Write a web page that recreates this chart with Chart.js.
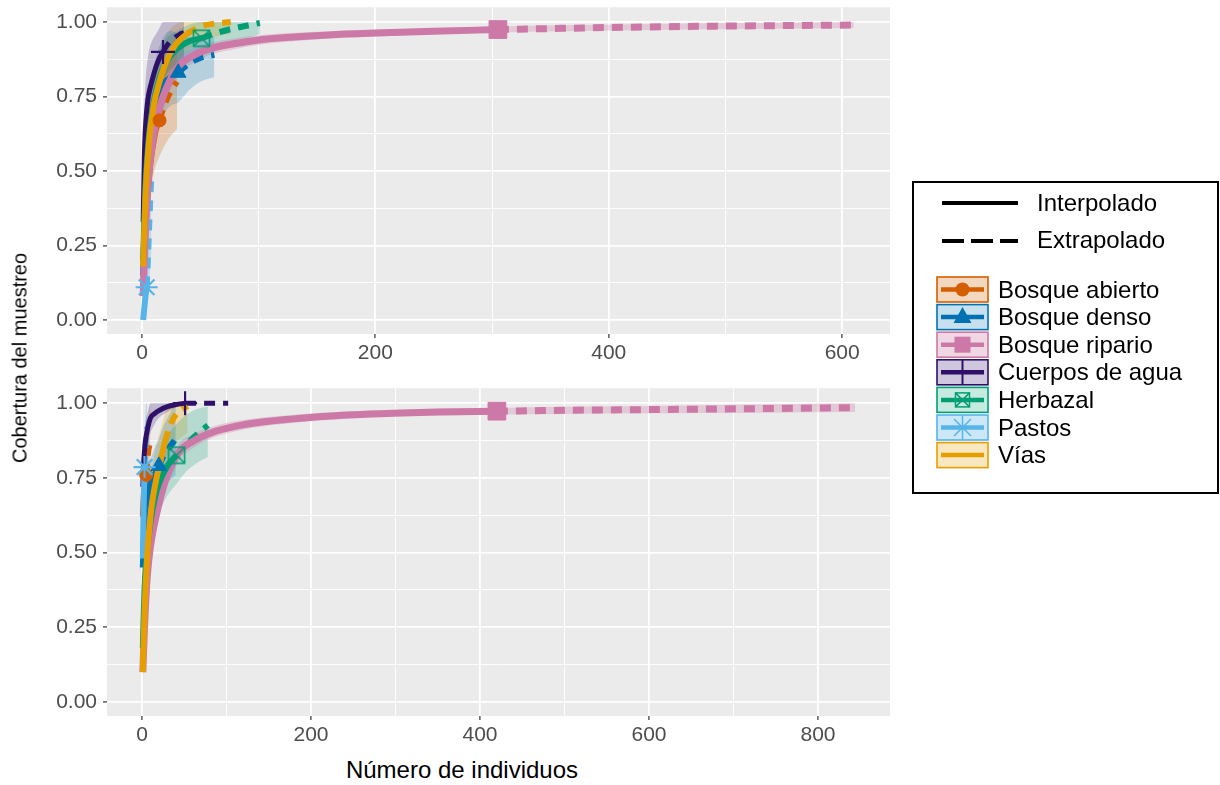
<!DOCTYPE html>
<html><head><meta charset="utf-8">
<script src="https://cdn.jsdelivr.net/npm/chart.js@4.4.0/dist/chart.umd.min.js"></script>
<style>
body{margin:0;background:#fff;width:1220px;height:785px;position:relative;overflow:hidden;font-family:"Liberation Sans",Arial,sans-serif;}
canvas{position:absolute;display:block;}
#cA{left:0;top:-7px;}
#cB{left:0;top:374px;}
#cL{left:910px;top:178px;}
.ytitle{position:absolute;left:20px;top:358px;transform:translate(-50%,-50%) rotate(-90deg);font-size:20px;white-space:nowrap;color:#000;}
.xtitle{position:absolute;left:462px;top:770px;transform:translate(-50%,-50%);font-size:24px;white-space:nowrap;color:#000;}
#legbox{position:absolute;left:912px;top:181px;width:307px;height:313px;border:2px solid #000;box-sizing:border-box;}
.lt{position:absolute;font-size:24px;line-height:28px;white-space:nowrap;color:#000;}
</style></head>
<body>
<canvas id="cA" width="905" height="372"></canvas>
<canvas id="cB" width="905" height="376"></canvas>
<div class="ytitle">Cobertura del muestreo</div>
<div class="xtitle">Número de individuos</div>
<div id="legbox"></div>
<canvas id="cL" width="310" height="320"></canvas>
<div id="legtext"></div>
<script>
// ---------- labels ----------
const seriesNames = ['Bosque abierto','Bosque denso','Bosque ripario','Cuerpos de agua','Herbazal','Pastos','Vías'];
const methodNames = ['Interpolado','Extrapolado'];
const yTicks = [0, 0.125, 0.25, 0.375, 0.5, 0.625, 0.75, 0.875, 1];
const A_xTicks = [0, 100, 200, 300, 400, 500, 600];
const B_xTicks = [0, 100, 200, 300, 400, 500, 600, 700, 800];

// ---------- Panel A (top) ----------
const A_obsN = [15, 31, 305, 18, 51, 4, 38];
const A_abierto_x  = [1, 2, 4, 6, 8, 10, 12, 15, 20, 25, 30];
const A_abierto_y  = [0.10, 0.22, 0.38, 0.48, 0.55, 0.60, 0.64, 0.67, 0.73, 0.77, 0.80];
const A_abierto_lo = [0.06, 0.15, 0.28, 0.37, 0.44, 0.49, 0.52, 0.55, 0.59, 0.62, 0.64];
const A_abierto_hi = [0.14, 0.29, 0.48, 0.59, 0.66, 0.71, 0.76, 0.79, 0.87, 0.92, 0.96];
const A_denso_x  = [1, 3, 6, 10, 15, 20, 25, 31, 40, 50, 62];
const A_denso_y  = [0.15, 0.45, 0.62, 0.72, 0.77, 0.80, 0.815, 0.83, 0.86, 0.88, 0.89];
const A_denso_lo = [0.10, 0.35, 0.50, 0.60, 0.66, 0.70, 0.72, 0.73, 0.77, 0.80, 0.815];
const A_denso_hi = [0.20, 0.55, 0.75, 0.85, 0.92, 0.96, 0.97, 0.96, 0.95, 0.95, 0.95];
const A_ripario_x  = [1, 3, 6, 10, 15, 20, 30, 45, 60, 80, 100, 130, 160, 200, 250, 305, 360, 420, 480, 540, 610];
const A_ripario_y  = [0.08, 0.30, 0.50, 0.62, 0.71, 0.77, 0.845, 0.89, 0.912, 0.928, 0.94, 0.95, 0.957, 0.963, 0.969, 0.975, 0.979, 0.983, 0.986, 0.988, 0.99];
const A_ripario_lo = [0.05, 0.24, 0.43, 0.56, 0.66, 0.73, 0.815, 0.865, 0.892, 0.91, 0.924, 0.936, 0.945, 0.952, 0.959, 0.965, 0.969, 0.973, 0.976, 0.978, 0.98];
const A_ripario_hi = [0.11, 0.36, 0.57, 0.68, 0.76, 0.81, 0.875, 0.915, 0.932, 0.946, 0.956, 0.964, 0.969, 0.974, 0.979, 0.985, 0.989, 0.993, 0.996, 0.998, 1.0];
const A_cuerpos_x  = [1, 2, 3, 5, 7, 9, 12, 15, 18, 22, 27, 32, 36];
const A_cuerpos_y  = [0.33, 0.55, 0.65, 0.74, 0.78, 0.81, 0.85, 0.88, 0.90, 0.925, 0.945, 0.958, 0.965];
const A_cuerpos_lo = [0.25, 0.42, 0.50, 0.60, 0.66, 0.70, 0.75, 0.78, 0.80, 0.83, 0.85, 0.86, 0.87];
const A_cuerpos_hi = [0.45, 0.70, 0.80, 0.88, 0.92, 0.94, 0.96, 0.98, 1.0, 1.0, 1.0, 1.0, 1.0];
const A_herbazal_x  = [1, 3, 6, 10, 15, 20, 30, 40, 51, 65, 80, 101];
const A_herbazal_y  = [0.20, 0.45, 0.62, 0.73, 0.81, 0.86, 0.91, 0.935, 0.946, 0.965, 0.98, 0.997];
const A_herbazal_lo = [0.15, 0.36, 0.52, 0.63, 0.72, 0.78, 0.85, 0.88, 0.895, 0.91, 0.93, 0.96];
const A_herbazal_hi = [0.25, 0.54, 0.72, 0.83, 0.90, 0.94, 0.97, 0.99, 1.0, 1.0, 1.0, 1.0];
const A_pastos_x  = [1, 2, 3, 4, 5, 6, 7, 8];
const A_pastos_y  = [0.0, 0.04, 0.08, 0.11, 0.20, 0.30, 0.40, 0.48];
const A_pastos_lo = [0.0, 0.0, 0.02, 0.04, 0.08, 0.12, 0.17, 0.22];
const A_pastos_hi = [0.02, 0.09, 0.15, 0.20, 0.33, 0.46, 0.60, 0.72];
const A_vias_x  = [1, 3, 6, 10, 15, 20, 28, 38, 50, 62, 76];
const A_vias_y  = [0.18, 0.42, 0.60, 0.72, 0.80, 0.86, 0.92, 0.96, 0.985, 0.995, 1.0];
const A_vias_lo = [0.12, 0.32, 0.49, 0.61, 0.70, 0.77, 0.85, 0.90, 0.93, 0.95, 0.96];
const A_vias_hi = [0.24, 0.52, 0.71, 0.83, 0.90, 0.95, 0.99, 1.0, 1.0, 1.0, 1.0];

// ---------- Panel B (bottom) ----------
const B_obsN = [5, 20, 420, 51, 41, 3, 27];
const B_abierto_x  = [1, 2, 3, 5, 7, 10];
const B_abierto_y  = [0.62, 0.68, 0.72, 0.76, 0.83, 0.876];
const B_abierto_lo = [0.55, 0.60, 0.63, 0.66, 0.70, 0.73];
const B_abierto_hi = [0.69, 0.76, 0.81, 0.86, 0.94, 1.0];
const B_denso_x  = [1, 3, 6, 10, 15, 20, 25, 32, 40];
const B_denso_y  = [0.45, 0.60, 0.68, 0.73, 0.76, 0.79, 0.82, 0.85, 0.88];
const B_denso_lo = [0.38, 0.52, 0.60, 0.65, 0.68, 0.70, 0.72, 0.74, 0.76];
const B_denso_hi = [0.52, 0.68, 0.76, 0.81, 0.85, 0.88, 0.92, 0.96, 1.0];
const B_ripario_x  = [1, 3, 6, 10, 19, 30, 45, 60, 84, 110, 140, 170, 202, 250, 297, 350, 420, 500, 580, 660, 740, 844];
const B_ripario_y  = [0.10, 0.25, 0.41, 0.52, 0.65, 0.76, 0.84, 0.872, 0.903, 0.922, 0.936, 0.945, 0.953, 0.961, 0.966, 0.97, 0.973, 0.976, 0.978, 0.98, 0.982, 0.985];
const B_ripario_lo = [0.07, 0.20, 0.35, 0.46, 0.60, 0.72, 0.81, 0.848, 0.884, 0.905, 0.921, 0.931, 0.94, 0.949, 0.955, 0.959, 0.962, 0.964, 0.966, 0.967, 0.968, 0.97];
const B_ripario_hi = [0.13, 0.30, 0.47, 0.58, 0.70, 0.80, 0.87, 0.896, 0.922, 0.939, 0.951, 0.959, 0.966, 0.973, 0.977, 0.981, 0.984, 0.988, 0.99, 0.993, 0.996, 1.0];
const B_cuerpos_x  = [1, 2, 4, 7, 10, 15, 20, 30, 40, 51, 65, 80, 102];
const B_cuerpos_y  = [0.72, 0.80, 0.87, 0.92, 0.95, 0.965, 0.975, 0.988, 0.995, 1.0, 1.0, 1.0, 1.0];
const B_cuerpos_lo = [0.66, 0.74, 0.81, 0.87, 0.90, 0.93, 0.95, 0.97, 0.985, 0.995, 0.998, 0.999, 1.0];
const B_cuerpos_hi = [0.78, 0.86, 0.93, 0.97, 1.0, 1.0, 1.0, 1.0, 1.0, 1.0, 1.0, 1.0, 1.0];
const B_herbazal_x  = [1, 3, 6, 10, 15, 20, 30, 41, 52, 65, 78];
const B_herbazal_y  = [0.18, 0.38, 0.50, 0.60, 0.68, 0.73, 0.79, 0.826, 0.86, 0.895, 0.926];
const B_herbazal_lo = [0.14, 0.30, 0.40, 0.50, 0.58, 0.63, 0.69, 0.73, 0.77, 0.80, 0.82];
const B_herbazal_hi = [0.22, 0.46, 0.60, 0.70, 0.78, 0.83, 0.89, 0.93, 0.96, 0.98, 0.99];
const B_pastos_x  = [1, 2, 3, 4, 5, 6];
const B_pastos_y  = [0.48, 0.66, 0.786, 0.85, 0.89, 0.92];
const B_pastos_lo = [0.40, 0.55, 0.65, 0.70, 0.73, 0.75];
const B_pastos_hi = [0.56, 0.77, 0.90, 0.97, 1.0, 1.0];
const B_vias_x  = [1, 3, 6, 10, 13, 18, 23, 27, 34, 41, 54];
const B_vias_y  = [0.10, 0.30, 0.48, 0.62, 0.686, 0.76, 0.82, 0.87, 0.93, 0.965, 0.99];
const B_vias_lo = [0.05, 0.20, 0.36, 0.50, 0.57, 0.65, 0.72, 0.77, 0.83, 0.87, 0.90];
const B_vias_hi = [0.15, 0.40, 0.60, 0.74, 0.80, 0.87, 0.92, 0.96, 1.0, 1.0, 1.0];

// ---------- styles ----------
const FONT = '"Liberation Sans", Arial, Helvetica, sans-serif';
const COLORS = ['#D55E00','#0072B2','#CC79A7','#2F1068','#009E73','#56B4E9','#E69F00'];
const BANDS = ['rgba(213,94,0,0.25)','rgba(0,114,178,0.22)','rgba(204,121,167,0.3)','rgba(60,30,120,0.25)','rgba(0,158,115,0.22)','rgba(86,180,233,0.3)','rgba(230,159,0,0.25)'];
const LINEW = [6, 6, 7, 5, 6, 6, 6];

function boxX(size, color){
  const c = document.createElement('canvas'); c.width = size; c.height = size;
  const g = c.getContext('2d'); g.strokeStyle = color; g.lineWidth = 1.6;
  const p = 1.5, s = size - 3;
  g.strokeRect(p, p, s, s);
  g.beginPath(); g.moveTo(p, p); g.lineTo(p + s, p + s); g.moveTo(p + s, p); g.lineTo(p, p + s); g.stroke();
  return c;
}
const MARKERS = ['circle','triangle','rect','cross', boxX(19, COLORS[4]), 'star', false];
const MRAD = [6.5, 9, 12.5, 12, 10, 11, 0];

function series(xs, ys, lo, hi, n){ return {xs, ys, lo, hi, n}; }
const A_series = [
  series(A_abierto_x, A_abierto_y, A_abierto_lo, A_abierto_hi, A_obsN[0]),
  series(A_denso_x, A_denso_y, A_denso_lo, A_denso_hi, A_obsN[1]),
  series(A_ripario_x, A_ripario_y, A_ripario_lo, A_ripario_hi, A_obsN[2]),
  series(A_cuerpos_x, A_cuerpos_y, A_cuerpos_lo, A_cuerpos_hi, A_obsN[3]),
  series(A_herbazal_x, A_herbazal_y, A_herbazal_lo, A_herbazal_hi, A_obsN[4]),
  series(A_pastos_x, A_pastos_y, A_pastos_lo, A_pastos_hi, A_obsN[5]),
  series(A_vias_x, A_vias_y, A_vias_lo, A_vias_hi, A_obsN[6]),
];
const B_series = [
  series(B_abierto_x, B_abierto_y, B_abierto_lo, B_abierto_hi, B_obsN[0]),
  series(B_denso_x, B_denso_y, B_denso_lo, B_denso_hi, B_obsN[1]),
  series(B_ripario_x, B_ripario_y, B_ripario_lo, B_ripario_hi, B_obsN[2]),
  series(B_cuerpos_x, B_cuerpos_y, B_cuerpos_lo, B_cuerpos_hi, B_obsN[3]),
  series(B_herbazal_x, B_herbazal_y, B_herbazal_lo, B_herbazal_hi, B_obsN[4]),
  series(B_pastos_x, B_pastos_y, B_pastos_lo, B_pastos_hi, B_obsN[5]),
  series(B_vias_x, B_vias_y, B_vias_lo, B_vias_hi, B_obsN[6]),
];

function buildDatasets(S){
  const ds = [];
  const common = {pointRadius:0, cubicInterpolationMode:'monotone', tension:0.4};
  S.forEach((s, i) => {
    const pts = (arr) => s.xs.map((x, j) => ({x, y: arr[j]}));
    ds.push(Object.assign({data: pts(s.lo), borderWidth:0, borderColor:'rgba(0,0,0,0)', fill:false, order:20}, common));
    ds.push(Object.assign({data: pts(s.hi), borderWidth:0, borderColor:'rgba(0,0,0,0)', fill:'-1', backgroundColor: BANDS[i], order:20}, common));
  });
  S.forEach((s, i) => {
    const all = s.xs.map((x, j) => ({x, y: s.ys[j]}));
    const interp = all.filter(p => p.x <= s.n);
    const extrap = all.filter(p => p.x >= s.n);
    ds.push(Object.assign({data: extrap, borderColor: COLORS[i], borderWidth: LINEW[i], borderDash:[11,8], fill:false, order:10 - i*0.01}, common));
    ds.push(Object.assign({data: interp, borderColor: COLORS[i], borderWidth: LINEW[i], fill:false, order:5 - i*0.01}, common));
    if (MARKERS[i]) {
      const k = s.xs.indexOf(s.n);
      ds.push({data:[{x: s.n, y: s.ys[k]}], showLine:false, pointStyle: MARKERS[i], pointRadius: MRAD[i],
        pointBackgroundColor: COLORS[i], pointBorderColor: COLORS[i], pointBorderWidth: (i===3||i===5) ? 2.2 : 1, order:1 - i*0.01});
    }
  });
  return ds;
}

const bgPlugin = {id:'bg', beforeDraw(chart){
  const {ctx, chartArea:a} = chart; ctx.save(); ctx.fillStyle = '#EBEBEB';
  ctx.fillRect(a.left, a.top, a.right - a.left, a.bottom - a.top); ctx.restore();
}};

function zeroPad(s){ s.paddingTop = 0; s.paddingBottom = 0; s.paddingLeft = 0; s.paddingRight = 0; }

function makeChart(id, S, xmin, xmax, xTicks, xMajorStep, padTop, xH){
  return new Chart(document.getElementById(id), {
    type:'line',
    data:{datasets: buildDatasets(S)},
    plugins:[bgPlugin],
    options:{
      responsive:false, animation:false, events:[],
      layout:{padding:{left:0, right:15, top:padTop, bottom:0}},
      plugins:{legend:{display:false}, tooltip:{enabled:false}},
      scales:{
        x:{type:'linear', min:xmin, max:xmax,
          afterBuildTicks:(s)=>{ s.ticks = xTicks.map(v=>({value:v})); },
          afterFit:(s)=>{ s.height = xH; zeroPad(s); },
          ticks:{autoSkip:false, maxRotation:0, padding:3, color:'#4D4D4D', font:{family:FONT, size:21},
            callback:(v)=> (v % xMajorStep === 0 ? String(v) : '')},
          grid:{color:'#FFFFFF', lineWidth:(c)=> (c.tick && c.tick.value % xMajorStep === 0 ? 1.8 : 0.9),
            tickLength:4, tickWidth:1.2, tickColor:(c)=> (c.tick && c.tick.value % xMajorStep === 0 ? '#333333' : 'rgba(0,0,0,0)')},
          border:{display:false}},
        y:{type:'linear', min:-0.047, max:1.05,
          afterBuildTicks:(s)=>{ s.ticks = yTicks.map(v=>({value:v})); },
          afterFit:(s)=>{ s.width = 107; zeroPad(s); },
          ticks:{autoSkip:false, padding:6, color:'#4D4D4D', font:{family:FONT, size:21},
            callback:(v)=> (Math.abs(v*4 - Math.round(v*4)) < 1e-9 ? v.toFixed(2) : '')},
          grid:{color:'#FFFFFF', lineWidth:(c)=> (c.tick && Math.abs(c.tick.value*4 - Math.round(c.tick.value*4)) < 1e-9 ? 1.8 : 0.9),
            tickLength:4, tickWidth:1.2, tickColor:(c)=> (c.tick && Math.abs(c.tick.value*4 - Math.round(c.tick.value*4)) < 1e-9 ? '#333333' : 'rgba(0,0,0,0)')},
          border:{display:false}}
      }
    }
  });
}

makeChart('cA', A_series, -30, 641, A_xTicks, 200, 0, 31);
makeChart('cB', B_series, -41.4, 885.2, B_xTicks, 200, 0, 34);

// ---------- legend ----------
(function(){
  const cv = document.getElementById('cL'); const g = cv.getContext('2d');
  const ox = 910, oy = 178;
  g.strokeStyle = '#000'; g.lineWidth = 4;
  g.beginPath(); g.moveTo(942 - ox, 203 - oy); g.lineTo(1018 - ox, 203 - oy); g.stroke();
  g.setLineDash([22, 7]);
  g.beginPath(); g.moveTo(942 - ox, 241 - oy); g.lineTo(1018 - ox, 241 - oy); g.stroke();
  g.setLineDash([]);
  const tx = document.getElementById('legtext');
  function addText(t, x, cy){ const d = document.createElement('div'); d.className = 'lt'; d.textContent = t;
    d.style.left = x + 'px'; d.style.top = (cy - 14) + 'px'; tx.appendChild(d); }
  addText(methodNames[0], 1037, 203);
  addText(methodNames[1], 1037, 240);
  seriesNames.forEach((name, i) => {
    const top = 277 + i * 27.6, h = 25, left = 937, w = 51;
    const x = left - ox, y = top - oy, cx = x + w/2, cy = y + h/2, col = COLORS[i];
    g.fillStyle = BANDS[i]; g.fillRect(x, y, w, h);
    g.strokeStyle = col; g.lineWidth = 1.6; g.strokeRect(x, y, w, h);
    g.lineWidth = 4.5; g.beginPath(); g.moveTo(x + 4, cy); g.lineTo(x + w - 4, cy); g.stroke();
    g.fillStyle = col; g.strokeStyle = col;
    if (i === 0){ g.beginPath(); g.arc(cx, cy, 7, 0, Math.PI*2); g.fill(); }
    if (i === 1){ g.beginPath(); g.moveTo(cx, cy - 10); g.lineTo(cx + 9, cy + 6); g.lineTo(cx - 9, cy + 6); g.closePath(); g.fill(); }
    if (i === 2){ g.fillRect(cx - 8, cy - 8, 16, 16); }
    if (i === 3){ g.lineWidth = 2; g.beginPath(); g.moveTo(cx, y); g.lineTo(cx, y + h); g.stroke(); }
    if (i === 4){ g.lineWidth = 1.5; g.strokeRect(cx - 7, cy - 7, 14, 14); g.beginPath(); g.moveTo(cx - 7, cy - 7); g.lineTo(cx + 7, cy + 7); g.moveTo(cx + 7, cy - 7); g.lineTo(cx - 7, cy + 7); g.stroke(); }
    if (i === 5){ g.lineWidth = 1.5; g.beginPath(); const r = 12;
      for (let a = 0; a < 4; a++){ const t = a * Math.PI / 4; g.moveTo(cx - r*Math.cos(t), cy - r*Math.sin(t)); g.lineTo(cx + r*Math.cos(t), cy + r*Math.sin(t)); }
      g.stroke(); }
    addText(name, 998, top + h/2);
  });
})();
</script>
</body></html>
